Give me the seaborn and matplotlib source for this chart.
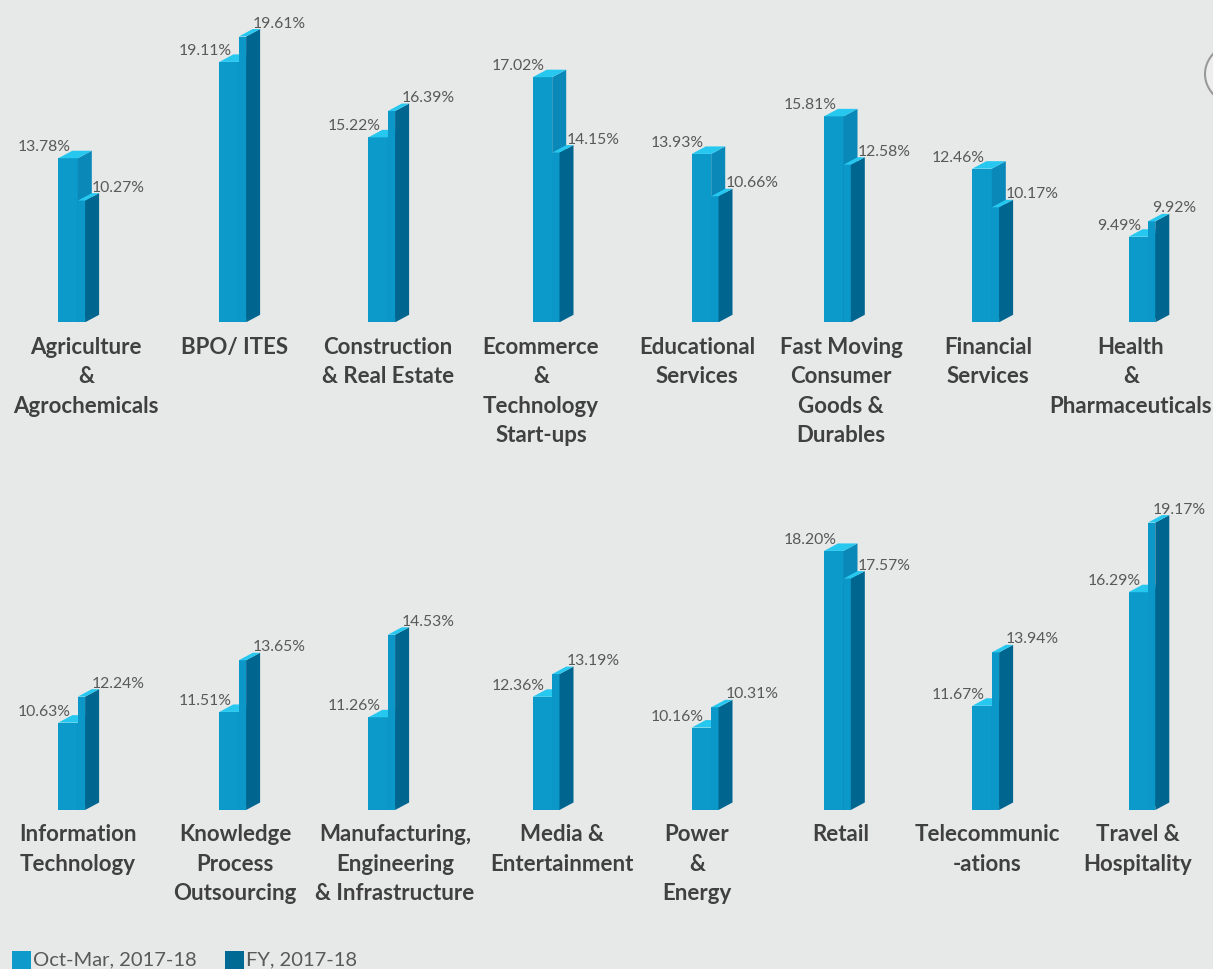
import matplotlib
matplotlib.use("Agg")
import matplotlib.pyplot as plt
from matplotlib.patches import Polygon, Rectangle, Circle
import seaborn as sns

# ---- data -----------------------------------------------------------------
sectors_top = [
    "Agriculture\n&\nAgrochemicals",
    "BPO/ ITES",
    "Construction\n& Real Estate",
    "Ecommerce\n&\nTechnology\nStart-ups",
    "Educational\nServices",
    "Fast Moving\nConsumer\nGoods &\nDurables",
    "Financial\nServices",
    "Health\n&\nPharmaceuticals",
]
sectors_bottom = [
    "Information\nTechnology",
    "Knowledge\nProcess\nOutsourcing",
    "Manufacturing,\nEngineering\n& Infrastructure",
    "Media &\nEntertainment",
    "Power\n&\nEnergy",
    "Retail",
    "Telecommunic\n-ations",
    "Travel &\nHospitality",
]
oct_mar_top = [13.78, 19.11, 15.22, 17.02, 13.93, 15.81, 12.46, 9.49]
fy_top = [10.27, 19.61, 16.39, 14.15, 10.66, 12.58, 10.17, 9.92]
oct_mar_bottom = [10.63, 11.51, 11.26, 12.36, 10.16, 18.20, 11.67, 16.29]
fy_bottom = [12.24, 13.65, 14.53, 13.19, 10.31, 17.57, 13.94, 19.17]
series_names = ["Oct-Mar, 2017-18", "FY, 2017-18"]

# every mini chart keeps its own value-axis range
axis_floor_top = [0.20, 13.98, 6.99, 7.69, 0.92, 2.06, 3.35, 7.10]
axis_ceiling_top = [25.03, 19.89, 20.34, 19.11, 24.10, 22.09, 21.14, 15.48]
axis_floor_bottom = [5.22, 7.45, 7.59, 8.22, 9.55, 12.31, 7.24, 7.28]
axis_ceiling_bottom = [23.80, 19.87, 19.47, 19.19, 11.77, 19.13, 19.99, 19.69]

# ---- layout (pixels) --------------------------------------------------------
FIG_W, FIG_H = 1213, 970
panel_left = [58.3, 219.3, 368.3, 532.7, 691.7, 824.0, 972.3, 1128.5]
label_center_top = [86, 235, 388, 541, 697, 841, 988, 1131]
label_center_bottom = [78, 235, 395, 562, 697, 841, 987, 1138]
fy_label_gap = [14, 14, 14, 14, 14, 14, 14, 4.5]   # last column hugs the edge
row_baseline = [323.3, 811.0]
AXIS_PX = 300.0
FRONT_PX = 19.5
FY_FRONT_PX = 7.3
DEPTH_X, DEPTH_Y = 14.0, 7.5
PANEL_UNITS = 3.0
PT = 0.72  # points per pixel at 100 dpi

# ---- colours ----------------------------------------------------------------
BG = "#e7e8e8"
OCT_FRONT = "#0b9ac9"
OCT_SIDE = "#0a88b7"
FY_FRONT = "#0b98c8"
FY_SIDE = "#006690"
TOP = "#27c8f0"
LEGEND_OCT = "#0e9bcb"
LEGEND_FY = "#006a94"
VALUE_GREY = "#595959"
LABEL_GREY = "#404040"

sns.set_theme(style="white", rc={"figure.facecolor": BG, "axes.facecolor": "none"})
plt.rcParams["font.family"] = ["Lato", "DejaVu Sans"]

fig = plt.figure(figsize=(FIG_W / 100, FIG_H / 100), dpi=100, facecolor=BG)


def box(left, base, width, height):
    return [left / FIG_W, (FIG_H - base) / FIG_H, width / FIG_W, height / FIG_H]


def draw_panel(ax, oct_v, fy_v, lo, hi, fy_gap):
    dx = DEPTH_X / FRONT_PX
    dy = DEPTH_Y * (hi - lo) / AXIS_PX
    fw = FY_FRONT_PX / FRONT_PX

    # front series: full-width column with its side and top faces
    sns.barplot(x=[0.5], y=[oct_v], native_scale=True, orient="x", width=1.0,
                color=OCT_FRONT, saturation=1, errorbar=None, linewidth=0, ax=ax)
    ax.add_patch(Polygon([(1, lo), (1 + dx, lo + dy), (1 + dx, oct_v + dy), (1, oct_v)],
                         closed=True, facecolor=OCT_SIDE, edgecolor="none"))
    ax.add_patch(Polygon([(0, oct_v), (1, oct_v), (1 + dx, oct_v + dy), (dx, oct_v + dy)],
                         closed=True, facecolor=TOP, edgecolor="none"))

    # second series: column sitting just behind, to the right
    sns.barplot(x=[1 + fw / 2], y=[fy_v], native_scale=True, orient="x", width=fw,
                color=FY_FRONT, saturation=1, errorbar=None, linewidth=0, ax=ax)
    ax.add_patch(Polygon([(1 + fw, lo), (1 + fw + dx, lo + dy), (1 + fw + dx, fy_v + dy), (1 + fw, fy_v)],
                         closed=True, facecolor=FY_SIDE, edgecolor="none"))
    ax.add_patch(Polygon([(1, fy_v), (1 + fw, fy_v), (1 + fw + dx, fy_v + dy), (1 + dx, fy_v + dy)],
                         closed=True, facecolor=TOP, edgecolor="none"))

    ax.annotate(f"{oct_v:.2f}%", xy=(0.5, oct_v + dy), xytext=(2.5 * PT, 0.5 * PT),
                textcoords="offset points", ha="right", va="baseline",
                fontsize=11.3, color=VALUE_GREY, annotation_clip=False)
    ax.annotate(f"{fy_v:.2f}%", xy=(1, fy_v + dy), xytext=(fy_gap * PT, 2.5 * PT),
                textcoords="offset points", ha="left", va="baseline",
                fontsize=11.3, color=VALUE_GREY, annotation_clip=False)

    ax.set_xlim(0, PANEL_UNITS)
    ax.set_ylim(lo, hi)
    ax.set_axis_off()


rows = [
    (sectors_top, oct_mar_top, fy_top, axis_floor_top, axis_ceiling_top, label_center_top),
    (sectors_bottom, oct_mar_bottom, fy_bottom, axis_floor_bottom, axis_ceiling_bottom, label_center_bottom),
]

for (names, oct_vals, fy_vals, floors, ceilings, centers), base in zip(rows, row_baseline):
    for i, name in enumerate(names):
        ax = fig.add_axes(box(panel_left[i], base, PANEL_UNITS * FRONT_PX, AXIS_PX))
        draw_panel(ax, oct_vals[i], fy_vals[i], floors[i], ceilings[i], fy_label_gap[i])
        fig.text(centers[i] / FIG_W, (FIG_H - base - 13.5) / FIG_H, name,
                 ha="center", va="top", fontsize=16, fontweight="bold",
                 color=LABEL_GREY, linespacing=1.5)

# legend along the bottom edge
legend_items = [(12, LEGEND_OCT, series_names[0]), (225, LEGEND_FY, series_names[1])]
for x, colour, text in legend_items:
    fig.add_artist(Rectangle((x / FIG_W, (FIG_H - 971) / FIG_H), 19 / FIG_W, 19 / FIG_H,
                             transform=fig.transFigure, facecolor=colour, edgecolor="none"))
    fig.text((x + 21) / FIG_W, (FIG_H - 965) / FIG_H, text, ha="left", va="baseline",
             fontsize=14.5, color=VALUE_GREY)

# slide navigation button peeking in at the right edge
fig.add_artist(Circle((1248 / FIG_W, (FIG_H - 75) / FIG_H), 43 / FIG_W, transform=fig.transFigure,
                      facecolor="#eeeeee", edgecolor="#9a9a9a", linewidth=1.5))

fig.savefig("out.png", dpi=100, facecolor=BG)
